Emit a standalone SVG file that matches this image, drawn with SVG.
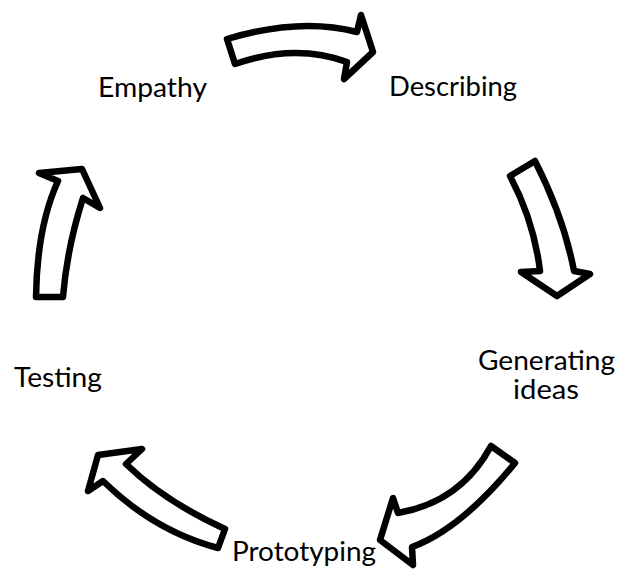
<svg xmlns="http://www.w3.org/2000/svg" width="624" height="569" viewBox="0 0 624 569">
<style>
.arrow{fill:#fff;stroke:#000;stroke-width:6.5;stroke-linejoin:round}
.lbl{font-family:Lato,"Open Sans","Liberation Sans",sans-serif;font-size:26px;fill:#000}
</style>
<rect width="624" height="569" fill="#fff"/>
<g id="connectors">
<path id="arrow-empathy-describing" class="arrow" d="M227,39 Q300,17 357,32 L361,15 L373,52 L344,79 L347,62 Q295,43 235,64 Z"/>
<path id="arrow-describing-generating" class="arrow" d="M510,176 Q534,221 540,271 L521,272 L557,296 L590,274 L574,271 Q564,218 535,161 Z"/>
<path id="arrow-generating-prototyping" class="arrow" d="M491,446 Q461,502 398,513 L393,498 L380,540 L413,565 L412,547 Q461,529 515,463 Z"/>
<path id="arrow-prototyping-testing" class="arrow" d="M225,529 Q164,501 126,464 L142,449 L98,455 L88,491 L103,481 Q154,531 218,548 Z"/>
<path id="arrow-testing-empathy" class="arrow" d="M36,297 Q37,227 58,181 L39,173 L82,169 L100,208 L83,198 Q67,248 63,297 Z"/>
</g>
<g id="node-empathy"><text class="lbl" x="98" y="97" textLength="109" lengthAdjust="spacingAndGlyphs">Empathy</text></g>
<g id="node-describing"><text class="lbl" x="389" y="96" textLength="128" lengthAdjust="spacingAndGlyphs">Describing</text></g>
<g id="node-generating"><text class="lbl" x="478" y="370" textLength="137" lengthAdjust="spacingAndGlyphs">Generating</text><text class="lbl" x="513" y="399" textLength="66" lengthAdjust="spacingAndGlyphs">ideas</text></g>
<g id="node-testing"><text class="lbl" x="14" y="387" textLength="88" lengthAdjust="spacingAndGlyphs">Testing</text></g>
<g id="node-prototyping"><text class="lbl" x="232" y="561" textLength="144" lengthAdjust="spacingAndGlyphs">Prototyping</text></g>
</svg>
